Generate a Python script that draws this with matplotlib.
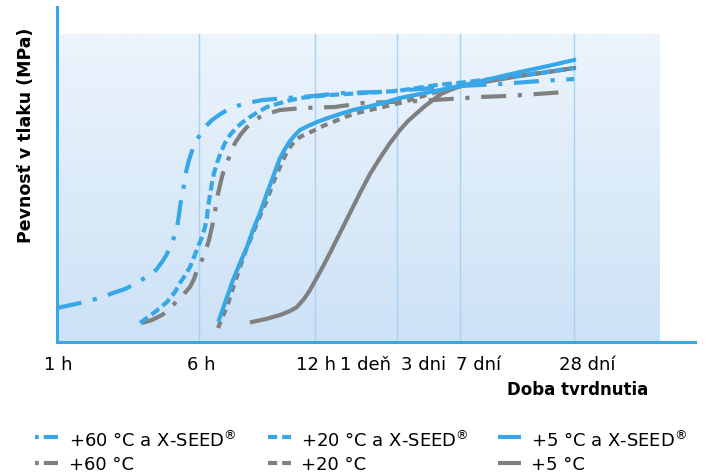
import numpy as np
import matplotlib.pyplot as plt
from matplotlib.lines import Line2D

plt.rcParams['font.family'] = ['DejaVu Sans']

# poloha na časovej osi a pevnosť (relatívna výška), odčítané z obrázka
b60_t = [0, 23, 43, 56, 68, 78, 91, 99, 105, 110, 114, 118, 120, 122, 123, 125, 127, 129, 132, 136,
         140, 145, 150, 155, 162, 170, 180, 190, 206, 230, 256, 286, 323, 363, 403, 443, 483, 517]
b60_s = [34, 39, 44, 49, 53, 58, 66, 72, 80, 88, 97, 107, 115, 127, 135, 147, 157, 170, 182, 194,
         202, 211, 217, 222, 227, 232, 236, 239, 242, 244, 246, 249, 250, 253, 256, 258, 261, 263]

b20_t = [83, 98, 110, 118, 123, 129, 133, 137, 141, 145, 148, 150, 151, 153, 155, 157, 160, 164, 168,
         173, 180, 186, 193, 201, 210, 220, 230, 243, 273, 306, 340, 380, 410, 443, 483, 517]
b20_s = [19, 30, 40, 50, 59, 68, 75, 85, 95, 105, 115, 125, 135, 147, 159, 169, 179, 190, 199,
         207, 215, 220, 225, 230, 235, 238, 241, 244, 247, 249, 251, 257, 260, 264, 269, 274]

b5_t = [162, 169, 176, 183, 190, 196, 203, 209, 216, 220, 223, 228, 233, 238, 243, 251, 260, 271, 283,
        296, 310, 326, 343, 373, 403, 433, 463, 491, 517]
b5_s = [22, 42, 62, 79, 95, 112, 129, 146, 165, 176, 184, 193, 201, 207, 212, 216, 220, 224, 228,
        232, 235, 239, 244, 250, 256, 263, 270, 276, 282]

g60_t = [85, 95, 105, 112, 118, 126, 133, 137, 140, 144, 148, 152, 155, 158, 160, 163, 166, 171, 178,
         184, 190, 196, 203, 213, 223, 246, 278, 306, 360, 393, 423, 450, 480, 508]
g60_s = [19, 22, 27, 32, 39, 47, 55, 63, 72, 80, 89, 102, 115, 130, 144, 157, 169, 182, 199,
         208, 215, 221, 225, 229, 232, 234, 235, 239, 241, 243, 245, 246, 248, 250]

g20_t = [161, 165, 170, 176, 183, 189, 196, 203, 210, 216, 223, 228, 233, 238, 243, 249, 256, 266, 276,
         288, 300, 313, 326, 343, 363, 383, 403, 443, 483, 517]
g20_s = [14, 24, 35, 54, 75, 92, 109, 126, 142, 159, 175, 186, 195, 201, 205, 208, 211, 216, 220,
         225, 229, 232, 235, 239, 245, 251, 256, 264, 269, 274]

g5_t = [195, 209, 223, 233, 240, 247, 253, 263, 273, 283, 293, 303, 313, 323, 333, 343, 351, 360, 368,
        376, 384, 393, 401, 410, 433, 463, 491, 517]
g5_s = [20, 23, 27, 31, 35, 43, 52, 70, 89, 109, 129, 149, 168, 184, 199, 212, 221, 229, 236,
        242, 248, 252, 255, 257, 261, 266, 270, 274]

tick_pos = [1, 144, 259, 308, 367, 422, 530]
tick_labels = ['1 h', '6 h', '12 h', '1 deň', '3 dni', '7 dní', '28 dní']
grid_pos = [142, 258, 340, 403, 517]

legend_labels = ['+60 °C a X-SEED$^{®}$', '+20 °C a X-SEED$^{®}$', '+5 °C a X-SEED$^{®}$',
                 '+60 °C', '+20 °C', '+5 °C']

BLUE = '#38a7e8'
GRAY = '#808080'
LW = 3
st60 = (0, (6, 2.8, 1, 2.8))
st20b = (0, (2.3, 1.1))
st20g = (0, (1.7, 1.4))

fig = plt.figure(figsize=(7.08, 4.75), dpi=100)
ax = fig.add_axes([57 / 708, 133 / 475, 638 / 708, 335 / 475])
ax.set_xlim(0, 638)
ax.set_ylim(0, 335)

# pozadie s prechodom
grad = np.linspace(0, 1, 256)
top = np.array([236, 244, 252]) / 255
bot = np.array([204, 226, 246]) / 255
img = top[None, :] + (bot - top)[None, :] * grad[:, None]
ax.imshow(img.reshape(256, 1, 3), extent=[0, 603, 0, 308], aspect='auto', zorder=0)

for g in grid_pos:
    ax.plot([g, g], [0, 308], color='#a9d1f2', lw=1, zorder=1)

kw = dict(lw=LW, solid_joinstyle='round', dash_joinstyle='round', dash_capstyle='butt')
ax.plot(g60_t, g60_s, color=GRAY, ls=st60, zorder=2, **kw)
ax.plot(g20_t, g20_s, color=GRAY, ls=st20g, zorder=2, **kw)
ax.plot(g5_t, g5_s, color=GRAY, zorder=2, **kw)
ax.plot(b60_t, b60_s, color=BLUE, ls=st60, zorder=3, **kw)
ax.plot(b20_t, b20_s, color=BLUE, ls=st20b, zorder=3, **kw)
ax.plot(b5_t, b5_s, color=BLUE, zorder=3, **kw)

for s in ['top', 'right']:
    ax.spines[s].set_visible(False)
for s in ['left', 'bottom']:
    ax.spines[s].set_color(BLUE)
    ax.spines[s].set_linewidth(2.2)

ax.set_yticks([])
ax.set_xticks(tick_pos)
ax.set_xticklabels(tick_labels, fontsize=13)
ax.tick_params(axis='x', length=0, pad=10)

fig.text(578 / 708, 1 - 395 / 475, 'Doba tvrdnutia', fontsize=12, fontweight='bold',
         ha='center', va='baseline')
fig.text(26 / 708, 1 - 135 / 475, 'Pevnosť v tlaku (MPa)', fontsize=12.5, fontweight='bold',
         rotation=90, ha='center', va='center')

# legenda
col_x = [35, 268, 498]
txt_x = [69, 301, 531]
row_line = [437, 463]
row_base = [447, 470]
h60 = (0, (0.9, 1.2, 3.6, 5))
hdash = (0, (2.2, 1.2))
styles = [(BLUE, h60), (BLUE, hdash), (BLUE, '-'), (GRAY, h60), (GRAY, hdash), (GRAY, '-')]
for i, lab in enumerate(legend_labels):
    c, ls = styles[i]
    ly = 1 - row_line[i // 3] / 475
    fig.add_artist(Line2D([col_x[i % 3] / 708, (col_x[i % 3] + 23) / 708], [ly, ly],
                          transform=fig.transFigure, color=c, lw=LW, ls=ls,
                          dash_capstyle='butt', solid_capstyle='butt'))
    fig.text(txt_x[i % 3] / 708, 1 - row_base[i // 3] / 475, lab, fontsize=13,
             ha='left', va='baseline')

fig.savefig('out.png', dpi=100)
